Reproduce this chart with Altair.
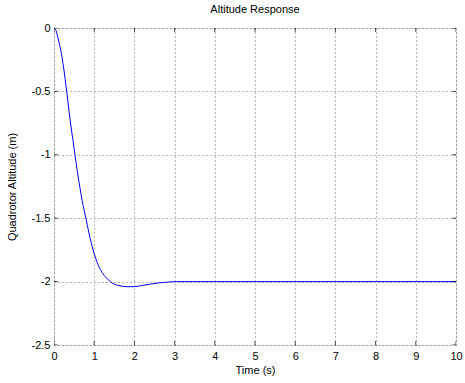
import altair as alt
import pandas as pd

time_s = [0, 0.05, 0.1, 0.2, 0.3, 0.4, 0.5, 0.6, 0.7, 0.8, 0.9, 1.0, 1.1, 1.2, 1.3,
          1.4, 1.5, 1.6, 1.8, 2.0, 2.2, 2.4, 2.6, 2.8, 3.0, 4, 5, 6, 7, 8, 9, 10]
altitude_m = [0, -0.02, -0.08, -0.23, -0.46, -0.72, -0.95, -1.17, -1.36, -1.51, -1.66,
              -1.78, -1.87, -1.93, -1.97, -2.00, -2.02, -2.03, -2.04, -2.04, -2.03,
              -2.02, -2.01, -2.005, -2.0, -2.0, -2.0, -2.0, -2.0, -2.0, -2.0, -2.0]
x_ticks = [0, 1, 2, 3, 4, 5, 6, 7, 8, 9, 10]
y_ticks = [0, -0.5, -1, -1.5, -2, -2.5]

df = pd.DataFrame({"t": time_s, "h": altitude_m})
dfx = pd.DataFrame({"t": x_ticks})
dfy = pd.DataFrame({"h": y_ticks})

FONT = "Liberation Sans"
W, H = 402, 317

xscale = alt.Scale(domain=[0, 10], nice=False)
yscale = alt.Scale(domain=[-2.5, 0], nice=False)

xaxis = alt.Axis(values=x_ticks, title="Time (s)", grid=True,
                 gridColor="#000000", gridDash=[1, 3], gridOpacity=0.55,
                 ticks=False, domain=False, labelPadding=5,
                 labelExpr="'' + datum.value",
                 labelFontSize=11, labelColor="#000000", labelFont=FONT,
                 titleFont=FONT, titleFontSize=11, titleFontWeight="normal",
                 titleColor="#000000", titlePadding=3, labelFlush=False)
yaxis = alt.Axis(values=y_ticks, title="Quadrotor Altitude (m)", grid=True,
                 gridColor="#000000", gridDash=[1, 3], gridOpacity=0.55,
                 ticks=False, domain=False, labelPadding=4,
                 labelExpr="'' + datum.value",
                 labelFontSize=11, labelColor="#000000", labelFont=FONT,
                 titleFont=FONT, titleFontSize=11, titleFontWeight="normal",
                 titleColor="#000000", titlePadding=14, labelFlush=False)

line = alt.Chart(df).mark_line(color="#0000ff", strokeWidth=1, interpolate="monotone").encode(
    x=alt.X("t:Q", scale=xscale, axis=xaxis, title="Time (s)"),
    y=alt.Y("h:Q", scale=yscale, axis=yaxis, title="Quadrotor Altitude (m)"),
)

TL = 4
tick_style = dict(color="#000000", thickness=1, size=TL * 2, clip=True)
xt_bottom = alt.Chart(dfx).mark_tick(**tick_style).encode(
    x=alt.X("t:Q", scale=xscale, axis=xaxis, title="Time (s)"), y=alt.value(H))
xt_top = alt.Chart(dfx).mark_tick(**tick_style).encode(
    x=alt.X("t:Q", scale=xscale, axis=xaxis, title="Time (s)"), y=alt.value(0))
yt_left = alt.Chart(dfy).mark_tick(**tick_style).encode(
    y=alt.Y("h:Q", scale=yscale, axis=yaxis, title="Quadrotor Altitude (m)"), x=alt.value(0))
yt_right = alt.Chart(dfy).mark_tick(**tick_style).encode(
    y=alt.Y("h:Q", scale=yscale, axis=yaxis, title="Quadrotor Altitude (m)"), x=alt.value(W))

chart = alt.layer(line, xt_bottom, xt_top, yt_left, yt_right).properties(
    width=W, height=H,
    autosize="none",
    padding={"left": 54, "top": 28, "right": 9, "bottom": 38},
    title=alt.TitleParams("Altitude Response", font=FONT, fontSize=11,
                          fontWeight="normal", color="#000000", offset=7),
).configure_view(stroke="#000000", strokeWidth=1).configure(background="#ffffff")

chart.save("out.html", embed_options={"renderer": "svg", "actions": False})
